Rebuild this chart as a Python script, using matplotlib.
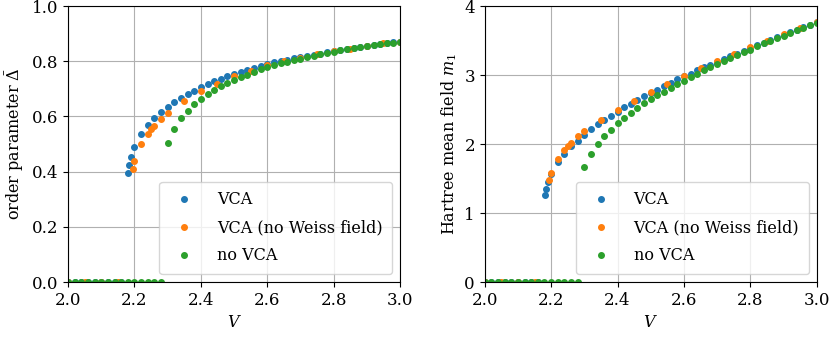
import numpy as np
import matplotlib
matplotlib.use('Agg')
import matplotlib.pyplot as plt

plt.rcParams['font.family'] = ['DejaVu Serif']
plt.rcParams['mathtext.fontset'] = 'dejavuserif'
plt.rcParams['font.size'] = 11

# --- VCA (blue) ---
V_vca = [2.0, 2.02, 2.04, 2.06, 2.08, 2.1, 2.12, 2.14, 2.16,
         2.182, 2.185, 2.19, 2.2, 2.22, 2.24, 2.26, 2.28, 2.3, 2.32, 2.34, 2.36, 2.38,
         2.4, 2.42, 2.44, 2.46, 2.48, 2.5, 2.52, 2.54, 2.56, 2.58, 2.6, 2.62, 2.64,
         2.66, 2.68, 2.7, 2.72, 2.74, 2.76, 2.78, 2.8, 2.82, 2.84, 2.86, 2.88, 2.9,
         2.92, 2.94, 2.96, 2.98, 3.0]
D_vca = [0, 0, 0, 0, 0, 0, 0, 0, 0,
         0.395, 0.423, 0.453, 0.489, 0.535, 0.568, 0.594, 0.616, 0.635, 0.652, 0.667,
         0.680, 0.693, 0.705, 0.716, 0.727, 0.736, 0.745, 0.755, 0.761, 0.768, 0.775,
         0.783, 0.790, 0.796, 0.801, 0.806, 0.811, 0.815, 0.820, 0.824, 0.828, 0.832,
         0.836, 0.840, 0.844, 0.848, 0.851, 0.855, 0.858, 0.862, 0.865, 0.868, 0.871]
M_vca = [0, 0, 0, 0, 0, 0, 0, 0, 0,
         1.26, 1.35, 1.45, 1.57, 1.74, 1.86, 1.97, 2.05, 2.13, 2.22, 2.29, 2.35, 2.41,
         2.47, 2.53, 2.58, 2.64, 2.69, 2.74, 2.79, 2.84, 2.89, 2.94, 2.98, 3.02, 3.07,
         3.11, 3.15, 3.19, 3.23, 3.27, 3.31, 3.35, 3.39, 3.43, 3.47, 3.51, 3.55, 3.58,
         3.62, 3.66, 3.70, 3.73, 3.77]

# --- VCA without Weiss field (orange) ---
V_nw = [2.0, 2.05, 2.1, 2.15, 2.195, 2.2, 2.22, 2.24, 2.25, 2.26, 2.28, 2.3,
        2.35, 2.4, 2.45, 2.5, 2.55, 2.6, 2.65, 2.7, 2.75, 2.8, 2.85, 2.9, 2.95, 3.0]
D_nw = [0, 0, 0, 0, 0.409, 0.440, 0.500, 0.537, 0.554, 0.566, 0.592, 0.612,
        0.655, 0.691, 0.719, 0.745, 0.766, 0.786, 0.800, 0.813, 0.826, 0.836,
        0.846, 0.856, 0.866, 0.871]
M_nw = [0, 0, 0, 0, 1.48, 1.58, 1.79, 1.92, 1.97, 2.02, 2.11, 2.19,
        2.35, 2.50, 2.63, 2.75, 2.87, 2.99, 3.10, 3.20, 3.30, 3.40, 3.49, 3.59,
        3.68, 3.77]

# --- no VCA (green) ---
V_mf = [2.0, 2.02, 2.04, 2.06, 2.08, 2.1, 2.12, 2.14, 2.16, 2.18, 2.2, 2.22, 2.24,
        2.26, 2.28, 2.3, 2.32, 2.34, 2.36, 2.38, 2.4, 2.42, 2.44, 2.46, 2.48, 2.5,
        2.52, 2.54, 2.56, 2.58, 2.6, 2.62, 2.64, 2.66, 2.68, 2.7, 2.72, 2.74, 2.76,
        2.78, 2.8, 2.82, 2.84, 2.86, 2.88, 2.9, 2.92, 2.94, 2.96, 2.98, 3.0]
D_mf = [0, 0, 0, 0, 0, 0, 0, 0, 0, 0, 0, 0, 0, 0, 0,
        0.504, 0.556, 0.593, 0.621, 0.644, 0.663, 0.680, 0.696, 0.709, 0.721, 0.732,
        0.743, 0.752, 0.762, 0.771, 0.778, 0.785, 0.792, 0.798, 0.804, 0.810, 0.815,
        0.820, 0.825, 0.830, 0.835, 0.840, 0.843, 0.847, 0.850, 0.854, 0.858, 0.861,
        0.865, 0.867, 0.870]
M_mf = [0, 0, 0, 0, 0, 0, 0, 0, 0, 0, 0, 0, 0, 0, 0,
        1.67, 1.86, 2.00, 2.12, 2.21, 2.30, 2.38, 2.45, 2.52, 2.59, 2.65,
        2.71, 2.76, 2.81, 2.87, 2.92, 2.97, 3.02, 3.07, 3.11, 3.16, 3.20,
        3.25, 3.29, 3.33, 3.37, 3.42, 3.46, 3.49, 3.53, 3.57, 3.61, 3.65,
        3.68, 3.72, 3.76]

labels = ['VCA', 'VCA (no Weiss field)', 'no VCA']

fig = plt.figure(figsize=(8.3, 3.37), dpi=100)
ax1 = fig.add_axes([0.082, 0.163, 0.400, 0.819])
ax2 = fig.add_axes([0.584, 0.163, 0.400, 0.819])

ms = 4
for ax, Ys, ylim, ylabel in [
        (ax1, (D_vca, D_nw, D_mf), (0, 1), r'order parameter $\bar{\Delta}$'),
        (ax2, (M_vca, M_nw, M_mf), (0, 4), r'Hartree mean field $m_1$')]:
    for x, y, c, lab in zip((V_vca, V_nw, V_mf), Ys,
                            ('C0', 'C1', 'C2'), labels):
        ax.plot(x, y, 'o', color=c, ms=ms, label=lab)
    ax.set_xlim(2.0, 3.0)
    ax.set_ylim(*ylim)
    ax.set_xlabel(r'$V$', fontsize=11.5)
    ax.set_ylabel(ylabel, fontsize=11.5)
    ax.tick_params(labelsize=12)
    ax.grid(True)
    ax.legend(loc='lower right', fontsize=11.5, handlelength=1.9,
              handletextpad=1.1, borderpad=0.6, labelspacing=0.7)

ax1.set_yticks([0, 0.2, 0.4, 0.6, 0.8, 1.0])
ax2.set_yticks([0, 1, 2, 3, 4])

fig.savefig('out.png', dpi=100)
